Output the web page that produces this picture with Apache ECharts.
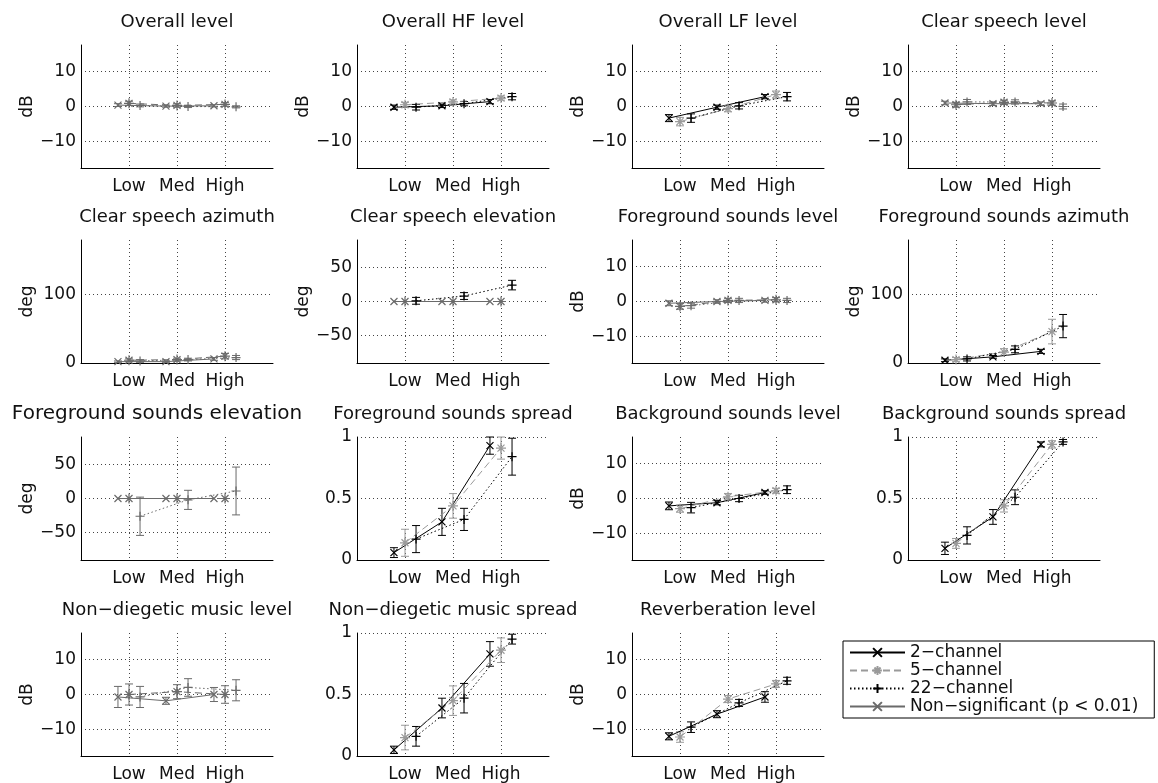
<!DOCTYPE html>
<html>
<head>
<meta charset="utf-8">
<script src="https://cdn.jsdelivr.net/npm/echarts@6/dist/echarts.min.js"></script>
<style>
  html, body { margin: 0; padding: 0; background: #fff; }
  #chart { width: 1158px; height: 783px; }
</style>
</head>
<body>
<div id="chart"></div>
<script>
var levels = ['Low', 'Med', 'High'];
var channels = ['2−channel', '5−channel', '22−channel'];
var nsName = 'Non−significant (p < 0.01)';

var titles = [
  'Overall level', 'Overall HF level', 'Overall LF level', 'Clear speech level',
  'Clear speech azimuth', 'Clear speech elevation', 'Foreground sounds level', 'Foreground sounds azimuth',
  'Foreground sounds elevation', 'Foreground sounds spread', 'Background sounds level', 'Background sounds spread',
  'Non−diegetic music level', 'Non−diegetic music spread', 'Reverberation level'
];
var kinds = [
  'level', 'level', 'level', 'level',
  'azimuth', 'elevation', 'level', 'azimuth',
  'elevation', 'spread', 'level', 'spread',
  'level', 'spread', 'level'
];

// tick labels per kind of panel
var levelTicks = [-10, 0, 10];
var azimuthTicks = [0, 100];
var elevationTicks = [-50, 0, 50];
var spreadTicks = [0, 0.5, 1];

// means and error half-widths: [2-ch, 5-ch, 22-ch] x [Low, Med, High]
var overallMean = [[0.4, 0.1, 0.2], [0.9, 0.3, 0.6], [0.3, 0.0, -0.1]];
var overallErr = [[0.4, 0.3, 0.3], [0.6, 0.5, 0.5], [0.4, 0.3, 0.3]];
var hfMean = [[-0.2, 0.2, 1.4], [0.5, 1.3, 2.4], [-0.2, 0.8, 2.8]];
var hfErr = [[0.6, 0.5, 0.6], [0.7, 0.6, 0.6], [0.8, 0.6, 0.9]];
var lfMean = [[-3.3, -0.2, 2.8], [-4.3, -0.6, 3.4], [-3.3, 0.2, 2.8]];
var lfErr = [[1.0, 0.6, 0.6], [1.2, 0.9, 1.0], [1.2, 0.9, 1.2]];
var speechLevelMean = [[1.0, 0.8, 0.8], [0.5, 1.2, 1.0], [1.3, 1.3, 0.0]];
var speechLevelErr = [[0.5, 0.5, 0.5], [0.7, 0.6, 0.6], [0.7, 0.6, 0.7]];
var speechAzMean = [[2, 2, 6], [4, 5, 10], [3, 5, 8]];
var speechAzErr = [[1, 1, 2], [2, 2, 4], [2, 2, 3]];
var speechElMean = [[0, 0, 0], [0, 0, 0], [1, 8, 24]];
var speechElErr = [[0, 0, 0], [0, 0, 0], [5, 5, 7]];
var fgLevelMean = [[-0.5, 0.0, 0.3], [-1.4, 0.3, 0.5], [-1.2, 0.3, 0.3]];
var fgLevelErr = [[0.7, 0.5, 0.5], [0.8, 0.6, 0.6], [0.7, 0.6, 0.6]];
var fgAzMean = [[4, 9, 17], [5, 16, 46], [6, 20, 54]];
var fgAzErr = [[2, 2, 3], [3, 5, 18], [3, 5, 17]];
var fgElMean = [[0, 0, 0], [0, 0, 0], [-26, -2, 11]];
var fgElErr = [[0, 0, 0], [0, 0, 0], [28, 14, 35]];
var fgSpreadMean = [[0.06, 0.31, 0.93], [0.14, 0.44, 0.91], [0.17, 0.33, 0.84]];
var fgSpreadErr = [[0.04, 0.11, 0.07], [0.11, 0.10, 0.09], [0.11, 0.09, 0.15]];
var bgLevelMean = [[-2.1, -1.2, 1.7], [-2.9, 0.5, 2.2], [-2.6, 0.0, 2.5]];
var bgLevelErr = [[1.1, 0.6, 0.5], [1.0, 0.9, 0.7], [1.5, 0.9, 1.1]];
var bgSpreadMean = [[0.095, 0.35, 0.94], [0.135, 0.44, 0.94], [0.20, 0.51, 0.96]];
var bgSpreadErr = [[0.05, 0.06, 0.02], [0.04, 0.05, 0.03], [0.07, 0.06, 0.02]];
var musicLevelMean = [[-0.7, -1.8, 0.0], [0.0, 0.8, 0.0], [-0.7, 2.0, 1.2]];
var musicLevelErr = [[3, 1, 2], [3, 2, 2.5], [3, 2.5, 3]];
var musicSpreadMean = [[0.05, 0.39, 0.83], [0.15, 0.45, 0.86], [0.16, 0.47, 0.95]];
var musicSpreadErr = [[0.03, 0.08, 0.10], [0.10, 0.12, 0.10], [0.08, 0.12, 0.04]];
var reverbMean = [[-11.9, -5.6, -0.7], [-12.1, -1.3, 3.0], [-9.3, -2.4, 3.9]];
var reverbErr = [[1.0, 1.0, 1.5], [1.5, 1.0, 1.0], [1.5, 1.0, 1.0]];

// significant per channel (false = drawn grey)
var allNs = [false, false, false];
var allSig = [true, true, true];
var only22 = [false, false, true];

var panelMeans = [overallMean, hfMean, lfMean, speechLevelMean, speechAzMean, speechElMean, fgLevelMean, fgAzMean,
  fgElMean, fgSpreadMean, bgLevelMean, bgSpreadMean, musicLevelMean, musicSpreadMean, reverbMean];
var panelErrs = [overallErr, hfErr, lfErr, speechLevelErr, speechAzErr, speechElErr, fgLevelErr, fgAzErr,
  fgElErr, fgSpreadErr, bgLevelErr, bgSpreadErr, musicLevelErr, musicSpreadErr, reverbErr];
var panelSig = [allNs, allSig, allSig, allNs, allNs, only22, allNs, allSig,
  allNs, allSig, allSig, allSig, allNs, allSig, allSig];

var FONT = '"DejaVu Sans", sans-serif';
var TXT = '#111';
var GRID_LINE = { color: '#444', width: 1, type: [1, 3] };
var NS_GREY = '#6a6a6a';
var GREY5 = '#9a9a9a';

var scales = {
  level: { min: -17.5, max: 17.5, split: 4, ticks: levelTicks, unit: 'dB' },
  azimuth: { min: 0, max: 180, split: 2, ticks: azimuthTicks, unit: 'deg' },
  elevation: { min: -90, max: 90, split: 4, ticks: elevationTicks, unit: 'deg' },
  spread: { min: 0, max: 1, split: 2, ticks: spreadTicks, unit: '' }
};

var colLeft = [81, 357, 632, 908];
var rowTop = [45, 240, 437, 633];
var plotW = 192, plotH = 123;

var offsets = [-0.23, 0, 0.23];
var markers = [
  'path://M0,0L10,10M0,10L10,0',
  'path://M5,0L5,10M0,5L10,5M1.5,1.5L8.5,8.5M1.5,8.5L8.5,1.5',
  'path://M5,0L5,10M0,5L10,5'
];
var markerSizes = [7, 10, 9];
var dashes = ['solid', [7, 4], [1.5, 2.5]];

function fmtNum(v) {
  return v < 0 ? '−' + (-v) : String(v);
}

function colourOf(c, sig) {
  if (!sig) return NS_GREY;
  return c === 1 ? GREY5 : '#000';
}

function renderErr(params, api) {
  var x = api.value(0);
  var lo = api.coord([x, api.value(1)]);
  var hi = api.coord([x, api.value(2)]);
  var col = api.visual('color');
  var cap = 4;
  var st = { stroke: col, lineWidth: 1 };
  return {
    type: 'group',
    children: [
      { type: 'line', shape: { x1: lo[0], y1: lo[1], x2: hi[0], y2: hi[1] }, style: st },
      { type: 'line', shape: { x1: lo[0] - cap, y1: lo[1], x2: lo[0] + cap, y2: lo[1] }, style: st },
      { type: 'line', shape: { x1: hi[0] - cap, y1: hi[1], x2: hi[0] + cap, y2: hi[1] }, style: st }
    ]
  };
}

var grids = [], xAxes = [], yAxes = [], series = [], graphics = [];

titles.forEach(function (title, i) {
  var k = scales[kinds[i]];
  var left = colLeft[i % 4];
  var top = rowTop[Math.floor(i / 4)];
  grids.push({ left: left, top: top, width: plotW, height: plotH, outerBoundsMode: 'none' });
  xAxes.push({
    gridIndex: i, type: 'value', min: 0, max: 4, interval: 1,
    axisLine: { onZero: false, lineStyle: { color: '#000', width: 1 } },
    axisTick: { show: false },
    axisLabel: {
      margin: 10, fontSize: 17, fontFamily: FONT, color: TXT,
      formatter: function (v) { return levels[v - 1] || ''; }
    },
    splitLine: { show: true, showMinLine: false, showMaxLine: false, lineStyle: GRID_LINE }
  });
  yAxes.push({
    gridIndex: i, type: 'value', min: k.min, max: k.max, splitNumber: k.split,
    name: k.unit, nameLocation: 'middle', nameGap: 45, nameRotate: 90, nameMoveOverlap: false,
    nameTextStyle: { fontSize: 17, fontFamily: FONT, color: TXT },
    axisLine: { show: true, onZero: false, lineStyle: { color: '#000', width: 1 } },
    axisTick: { show: false },
    axisLabel: {
      margin: 5, fontSize: 17, fontFamily: FONT, color: TXT,
      formatter: function (v) { return k.ticks.indexOf(v) >= 0 ? fmtNum(v) : ''; }
    },
    splitLine: { show: true, showMinLine: false, showMaxLine: kinds[i] === 'spread', lineStyle: GRID_LINE }
  });
  // the long elevation title is printed larger and further left in the original
  var big = title === 'Foreground sounds elevation';
  graphics.push({
    type: 'text', x: left + plotW / 2 - (big ? 20 : 0), y: top - 23, silent: true,
    style: {
      text: title, font: (big ? '20px ' : '18px ') + FONT, fill: TXT,
      align: 'center', verticalAlign: 'middle', textAlign: 'center', textVerticalAlign: 'middle'
    }
  });

  var mean = panelMeans[i], err = panelErrs[i], sig = panelSig[i];
  for (var c = 0; c < 3; c++) {
    var col = colourOf(c, sig[c]);
    var pts = [], bars = [];
    for (var j = 0; j < levels.length; j++) {
      var x = j + 1 + offsets[c];
      pts.push([x, mean[c][j]]);
      if (err[c][j] > 0) bars.push([x, mean[c][j] - err[c][j], mean[c][j] + err[c][j]]);
    }
    series.push({
      type: 'custom', name: 'err' + i + '-' + c, xAxisIndex: i, yAxisIndex: i,
      renderItem: renderErr, itemStyle: { color: col }, data: bars, silent: true, z: 2
    });
    series.push({
      type: 'line', name: 'p' + i + '-' + c, xAxisIndex: i, yAxisIndex: i, data: pts,
      symbol: markers[c], symbolSize: markerSizes[c],
      lineStyle: { color: col, width: 1, type: dashes[c] },
      itemStyle: { color: 'none', borderColor: col, borderWidth: 1.2 },
      silent: true, z: 3
    });
  }
});

// legend-only series
var legendNames = channels.concat([nsName]);
var legendCols = ['#000', GREY5, '#000', NS_GREY];
var legendDash = ['solid', [7, 4], [1.5, 2.5], 'solid'];
var legendSym = [markers[0], markers[1], markers[2], markers[0]];
var legendSize = [7, 10, 9, 7];
legendNames.forEach(function (n, i) {
  series.push({
    type: 'line', name: n, xAxisIndex: 0, yAxisIndex: 0, data: [],
    symbol: legendSym[i], symbolSize: legendSize[i],
    lineStyle: { color: legendCols[i], width: 1, type: legendDash[i] },
    itemStyle: { color: 'none', borderColor: legendCols[i], borderWidth: 1.2 }
  });
});

var chart = echarts.init(document.getElementById('chart'), null, { renderer: 'canvas' });
chart.setOption({
  animation: false,
  backgroundColor: '#fff',
  grid: grids,
  xAxis: xAxes,
  yAxis: yAxes,
  series: series,
  graphic: graphics,
  legend: {
    orient: 'vertical', left: 843, top: 641,
    data: legendNames,
    itemWidth: 55, itemHeight: 11, itemGap: 1,
    padding: [3, 16, 3, 6],
    borderColor: '#000', borderWidth: 1, backgroundColor: '#fff',
    selectedMode: false,
    textStyle: { fontSize: 17, fontFamily: FONT, color: TXT }
  }
});
</script>
</body>
</html>
